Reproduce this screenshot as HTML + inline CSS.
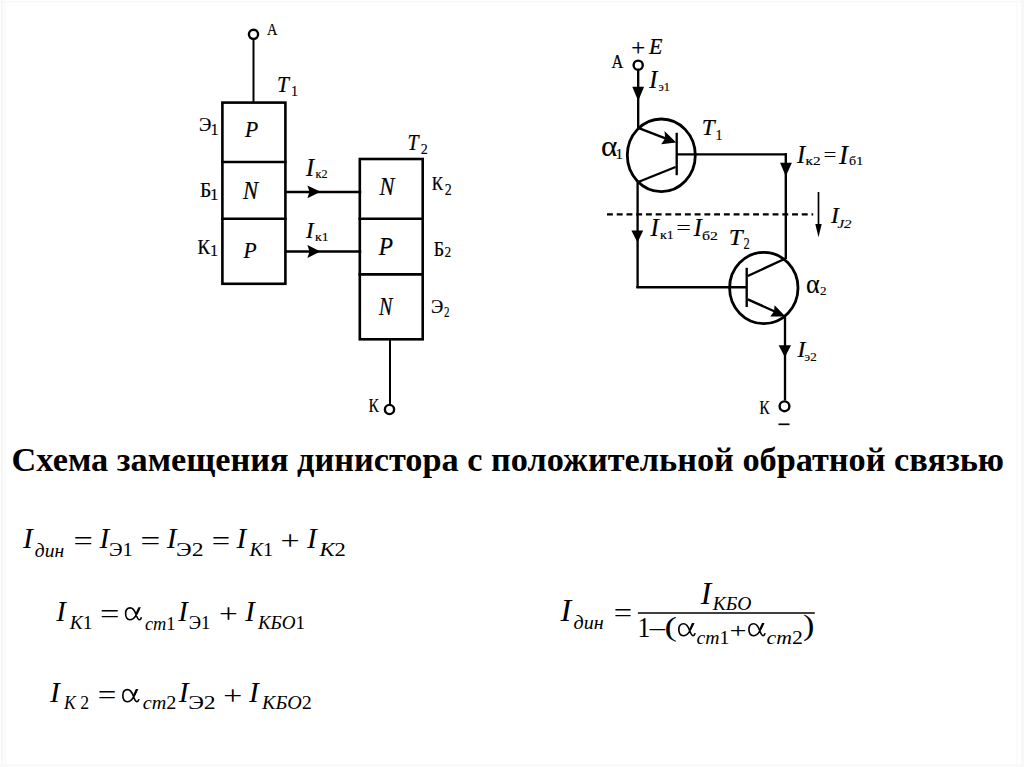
<!DOCTYPE html>
<html><head><meta charset="utf-8">
<style>
html,body{margin:0;padding:0;background:#fff;}
body{width:1024px;height:767px;overflow:hidden;position:relative;}
svg{position:absolute;left:0;top:0;}
text{font-family:"Liberation Serif",serif;fill:#000;}
.title{font-weight:bold;}
</style></head>
<body>
<svg width="1024" height="767" viewBox="0 0 1024 767">
<g stroke="none">
  <rect x="1" y="0" width="2" height="767" fill="#f6f6f6"/>
  <rect x="4" y="0" width="2" height="767" fill="#fbfbfb"/>
  <rect x="0" y="1" width="1024" height="1.5" fill="#f8f8f8"/>
  <rect x="0" y="5" width="1024" height="1" fill="#fbfbfb"/>
  <rect x="1021" y="0" width="3" height="767" fill="#f8f8f8"/>
  <rect x="1016" y="0" width="1.5" height="767" fill="#fbfbfb"/>
  <rect x="0" y="764" width="1024" height="3" fill="#f9f9f9"/>
</g>
<!-- Left diagram -->
<g stroke="#000" fill="none" stroke-linecap="square">
  <circle cx="253.5" cy="34.3" r="4.6" stroke-width="2.4"/>
  <line x1="253.5" y1="40" x2="253.5" y2="102" stroke-width="2"/>
  <rect x="222.4" y="102.6" width="63" height="181.2" stroke-width="2.6"/>
  <line x1="222.4" y1="162" x2="285.4" y2="162" stroke-width="2.6"/>
  <line x1="222.4" y1="218.7" x2="285.4" y2="218.7" stroke-width="2.6"/>
  <line x1="286" y1="191.9" x2="360" y2="191.9" stroke-width="2.5"/>
  <line x1="286" y1="251.6" x2="360" y2="251.6" stroke-width="2.5"/>
  <rect x="359.8" y="159" width="62.9" height="180.3" stroke-width="2.6"/>
  <line x1="359.8" y1="218.8" x2="422.7" y2="218.8" stroke-width="2.6"/>
  <line x1="359.8" y1="274.4" x2="422.7" y2="274.4" stroke-width="2.6"/>
  <line x1="390" y1="340" x2="390" y2="404" stroke-width="2"/>
  <circle cx="389.5" cy="409.5" r="4.6" stroke-width="2.4"/>
</g>
<g fill="#000">
  <path d="M307.4 185.4 L320.5 191.8 L307.4 198.2 L309.5 191.8 Z"/>
  <path d="M307.4 245.1 L320.5 251.5 L307.4 257.9 L309.5 251.5 Z"/>
</g>

<!-- Right diagram -->
<g stroke="#000" fill="none">
  <circle cx="638.2" cy="65.2" r="4.6" stroke-width="2.4"/>
  <line x1="638.2" y1="70.5" x2="638.2" y2="128" stroke-width="2.35"/>
  <ellipse cx="661.3" cy="155.3" rx="34" ry="36.3" stroke-width="2.8"/>
  <line x1="638.2" y1="127.8" x2="668" y2="139.4" stroke-width="2.4"/>
  <line x1="676.7" y1="132.8" x2="676.7" y2="175.2" stroke-width="2.35"/>
  <line x1="676.7" y1="154.4" x2="787" y2="154.4" stroke-width="2.4"/>
  <line x1="675.6" y1="167" x2="638.2" y2="182" stroke-width="2.4"/>
  <line x1="637.6" y1="181" x2="637.6" y2="288" stroke-width="2.35"/>
  <line x1="636.4" y1="287.2" x2="747" y2="287.2" stroke-width="2.4"/>
  <line x1="785.8" y1="153.2" x2="785.8" y2="259" stroke-width="2.4"/>
  <ellipse cx="763.8" cy="288" rx="34.2" ry="35.6" stroke-width="2.8"/>
  <line x1="746.7" y1="267.8" x2="746.7" y2="307" stroke-width="2.35"/>
  <line x1="747.8" y1="276" x2="785.5" y2="258.5" stroke-width="2.4"/>
  <line x1="747.8" y1="299.3" x2="777" y2="312.5" stroke-width="2.4"/>
  <line x1="785" y1="316" x2="785" y2="400.5" stroke-width="2.35"/>
  <circle cx="784.5" cy="406.3" r="4.9" stroke-width="2.4"/>
  <line x1="778.5" y1="424.3" x2="789.5" y2="424.3" stroke-width="1.7"/>
  <line x1="607" y1="214.3" x2="813.2" y2="214.3" stroke-width="2.3" stroke-dasharray="5.9 3.84"/>
  <line x1="818.5" y1="192" x2="818.5" y2="228" stroke-width="1.7"/>
</g>
<g fill="#000">
    <path d="M632.3 86.7 L644.1 86.7 L638.2 101 Z"/>
  <path d="M676.2 142.6 L664.5 131 L665.2 138.2 L661.2 144.3 Z"/>
  <path d="M780.1 162.8 L791.9 162.8 L785.8 176.3 Z"/>
  <path d="M815.3 224 L821.7 224 L818.5 237.2 Z"/>
  <path d="M631.4 230.5 L643.2 230.5 L637.5 242.4 Z"/>
  <path d="M785.5 316.5 L774.6 305.3 L774 311.5 L770.3 316.6 Z"/>
  <path d="M778.6 345.2 L791 345.2 L784.9 357.2 Z"/>
</g>
<line x1="637.9" y1="613" x2="814.8" y2="613" stroke="#000" stroke-width="1.6"/>
<text x="11.6" y="470.7" class="title" style="font-size:34.3px">Схема замещения динистора с положительной обратной связью</text>
<defs><g id="alpha"><path d="M139.4 608.2 C138 611.5, 136.3 616.5, 133.2 618.7 C131.8 619.6, 130.8 619.8, 129.8 619.8 C127.2 619.8, 125.6 617.2, 125.6 613.6 C125.6 610.2, 127.4 607.9, 130.2 607.9 C133.2 607.9, 134.6 610.4, 135.9 614.2 C137 617.4, 137.9 619.7, 139.4 619.7 C140.4 619.7, 141.1 618.6, 141.5 617.2" fill="none" stroke="#000" stroke-width="1.6"/><path d="M138.4 607.3 L140.9 607.3 L137.1 614.3 L135.5 613.6 Z" fill="#000"/></g></defs>
<use href="#alpha" transform="translate(124.7 607) scale(1.0000 1.0000) translate(-124.7 -607)"/>
<use href="#alpha" transform="translate(121.9 688.7) scale(1.0170 1.0219) translate(-124.7 -607)"/>
<use href="#alpha" transform="translate(677.9 622.8) scale(1.0284 1.0146) translate(-124.7 -607)"/>
<use href="#alpha" transform="translate(748 622.8) scale(1.0227 1.0146) translate(-124.7 -607)"/>
<text id="lA" x="266.90" y="34.50" textLength="10.36" lengthAdjust="spacingAndGlyphs" style="font-size:17.36px;stroke:#000;stroke-width:0.15;">А</text>
<text id="lT1" x="277.05" y="92.45" textLength="11.94" lengthAdjust="spacingAndGlyphs" style="font-style:italic;font-size:23.56px;stroke:#000;stroke-width:0.22;">T</text>
<text id="lT1s" x="291.00" y="96.30" style="font-size:14.17px;stroke:#000;stroke-width:0.15;">1</text>
<text id="lE1" x="198.90" y="130.80" textLength="12.32" lengthAdjust="spacingAndGlyphs" style="font-size:18.55px;stroke:#000;stroke-width:0.22;">Э</text>
<text id="lE1s" x="210.50" y="134.50" style="font-size:16.25px;stroke:#000;stroke-width:0.15;">1</text>
<text id="lB1" x="200.10" y="196.55" textLength="11.30" lengthAdjust="spacingAndGlyphs" style="font-size:20.02px;stroke:#000;stroke-width:0.22;">Б</text>
<text id="lB1s" x="209.90" y="199.80" style="font-size:16.87px;stroke:#000;stroke-width:0.15;">1</text>
<text id="lK1" x="197.55" y="253.70" textLength="12.53" lengthAdjust="spacingAndGlyphs" style="font-size:20.03px;stroke:#000;stroke-width:0.22;">К</text>
<text id="lK1s" x="209.90" y="255.50" style="font-size:16.25px;stroke:#000;stroke-width:0.15;">1</text>
<text id="lP1" x="245.00" y="136.80" textLength="13.16" lengthAdjust="spacingAndGlyphs" style="font-style:italic;font-size:23.43px;stroke:#000;stroke-width:0.22;">P</text>
<text id="lN1" x="243.05" y="198.75" textLength="15.09" lengthAdjust="spacingAndGlyphs" style="font-style:italic;font-size:24.44px;stroke:#000;stroke-width:0.22;">N</text>
<text id="lP2" x="243.60" y="257.90" textLength="13.11" lengthAdjust="spacingAndGlyphs" style="font-style:italic;font-size:23.57px;stroke:#000;stroke-width:0.22;">P</text>
<text id="rN1" x="379.60" y="195.00" textLength="14.92" lengthAdjust="spacingAndGlyphs" style="font-style:italic;font-size:25.23px;stroke:#000;stroke-width:0.22;">N</text>
<text id="rP1" x="378.85" y="254.55" textLength="14.22" lengthAdjust="spacingAndGlyphs" style="font-style:italic;font-size:24.67px;stroke:#000;stroke-width:0.22;">P</text>
<text id="rN2" x="379.00" y="315.35" textLength="13.38" lengthAdjust="spacingAndGlyphs" style="font-style:italic;font-size:24.31px;stroke:#000;stroke-width:0.22;">N</text>
<text id="lT2" x="407.50" y="150.05" textLength="11.05" lengthAdjust="spacingAndGlyphs" style="font-style:italic;font-size:23.56px;stroke:#000;stroke-width:0.22;">T</text>
<text id="lT2s" x="420.65" y="153.50" textLength="7.03" lengthAdjust="spacingAndGlyphs" style="font-size:14.77px;stroke:#000;stroke-width:0.15;">2</text>
<text id="lK2" x="431.70" y="190.20" textLength="11.33" lengthAdjust="spacingAndGlyphs" style="font-size:18.91px;stroke:#000;stroke-width:0.22;">К</text>
<text id="lK2s" x="444.75" y="194.85" textLength="7.00" lengthAdjust="spacingAndGlyphs" style="font-size:16.02px;stroke:#000;stroke-width:0.15;">2</text>
<text id="lB2" x="433.70" y="255.75" textLength="10.38" lengthAdjust="spacingAndGlyphs" style="font-size:20.03px;stroke:#000;stroke-width:0.22;">Б</text>
<text id="lB2s" x="444.50" y="256.50" textLength="6.69" lengthAdjust="spacingAndGlyphs" style="font-size:14.77px;stroke:#000;stroke-width:0.15;">2</text>
<text id="lE2" x="431.00" y="312.80" textLength="12.26" lengthAdjust="spacingAndGlyphs" style="font-size:18.00px;stroke:#000;stroke-width:0.22;">Э</text>
<text id="lE2s" x="444.10" y="316.50" textLength="5.50" lengthAdjust="spacingAndGlyphs" style="font-size:14.48px;stroke:#000;stroke-width:0.15;">2</text>
<text id="lIk2" x="306.00" y="176.00" style="font-style:italic;font-size:24.22px;stroke:#000;stroke-width:0.22;">I</text>
<text id="lIk2s" x="315.50" y="178.00" textLength="11.95" lengthAdjust="spacingAndGlyphs" style="font-size:13.00px;stroke:#000;stroke-width:0.15;">к2</text>
<text id="lIk1" x="306.00" y="238.00" style="font-style:italic;font-size:22.96px;stroke:#000;stroke-width:0.22;">I</text>
<text id="lIk1s" x="315.00" y="240.65" textLength="13.49" lengthAdjust="spacingAndGlyphs" style="font-size:13.00px;stroke:#000;stroke-width:0.15;">к1</text>
<text id="lK" x="368.40" y="412.30" textLength="10.40" lengthAdjust="spacingAndGlyphs" style="font-size:18.52px;stroke:#000;stroke-width:0.15;">К</text>
<text id="rA" x="611.50" y="68.15" textLength="11.82" lengthAdjust="spacingAndGlyphs" style="font-size:19.80px;stroke:#000;stroke-width:0.22;">А</text>
<text id="rplus" x="631.30" y="55.00" textLength="13.85" lengthAdjust="spacingAndGlyphs" style="font-size:22.41px;stroke:#000;stroke-width:0.22;">+</text>
<text id="rE" x="649.05" y="54.40" textLength="13.43" lengthAdjust="spacingAndGlyphs" style="font-style:italic;font-size:22.96px;stroke:#000;stroke-width:0.22;">E</text>
<text id="rIe1" x="649.15" y="88.40" style="font-style:italic;font-size:24.22px;stroke:#000;stroke-width:0.22;">I</text>
<text id="rIe1s" x="658.45" y="91.25" textLength="11.49" lengthAdjust="spacingAndGlyphs" style="font-size:13.00px;stroke:#000;stroke-width:0.15;">э1</text>
<text id="ra1" x="601.00" y="155.50" textLength="16.37" lengthAdjust="spacingAndGlyphs" style="font-size:28.83px;stroke:#000;stroke-width:0.1;">α</text>
<text id="ra1s" x="615.50" y="158.50" style="font-size:14.99px;stroke:#000;stroke-width:0.15;">1</text>
<text id="rT1" x="701.75" y="134.95" textLength="12.90" lengthAdjust="spacingAndGlyphs" style="font-style:italic;font-size:22.35px;stroke:#000;stroke-width:0.22;">T</text>
<text id="rT1s" x="715.40" y="140.00" style="font-size:13.96px;stroke:#000;stroke-width:0.15;">1</text>
<text id="rIk2" x="796.90" y="163.40" style="font-style:italic;font-size:24.35px;stroke:#000;stroke-width:0.22;">I</text>
<text id="rIk2s" x="805.60" y="165.20" textLength="14.99" lengthAdjust="spacingAndGlyphs" style="font-size:13.00px;stroke:#000;stroke-width:0.15;">к2</text>
<text id="rEq1" x="823.80" y="160.80" textLength="12.50" lengthAdjust="spacingAndGlyphs" style="font-size:18.00px;stroke:#000;stroke-width:0.22;">=</text>
<text id="rIb1" x="839.05" y="163.80" style="font-style:italic;font-size:27.01px;stroke:#000;stroke-width:0.22;">I</text>
<text id="rIb1s" x="849.05" y="164.75" textLength="14.08" lengthAdjust="spacingAndGlyphs" style="font-size:13.00px;stroke:#000;stroke-width:0.15;">б1</text>
<text id="rIJ" x="830.95" y="223.25" style="font-style:italic;font-size:23.56px;stroke:#000;stroke-width:0.22;">I</text>
<text id="rIJs" x="837.40" y="228.10" textLength="14.03" lengthAdjust="spacingAndGlyphs" style="font-style:italic;font-size:12.00px;stroke:#000;stroke-width:0.15;">J2</text>
<text id="rIk1" x="650.50" y="235.85" style="font-style:italic;font-size:24.66px;stroke:#000;stroke-width:0.22;">I</text>
<text id="rIk1s" x="660.05" y="239.35" textLength="13.67" lengthAdjust="spacingAndGlyphs" style="font-size:13.00px;stroke:#000;stroke-width:0.15;">к1</text>
<text id="rEq2" x="676.55" y="234.44" textLength="14.20" lengthAdjust="spacingAndGlyphs" style="font-size:18.00px;stroke:#000;stroke-width:0.22;">=</text>
<text id="rIb2" x="693.75" y="235.85" style="font-style:italic;font-size:24.25px;stroke:#000;stroke-width:0.22;">I</text>
<text id="rIb2s" x="702.05" y="239.80" textLength="15.93" lengthAdjust="spacingAndGlyphs" style="font-size:13.00px;stroke:#000;stroke-width:0.15;">б2</text>
<text id="rT2" x="728.65" y="245.25" textLength="13.86" lengthAdjust="spacingAndGlyphs" style="font-style:italic;font-size:23.56px;stroke:#000;stroke-width:0.22;">T</text>
<text id="rT2s" x="743.40" y="248.50" textLength="6.22" lengthAdjust="spacingAndGlyphs" style="font-size:16.64px;stroke:#000;stroke-width:0.15;">2</text>
<text id="ra2" x="806.00" y="292.60" textLength="13.73" lengthAdjust="spacingAndGlyphs" style="font-size:27.17px;stroke:#000;stroke-width:0.1;">α</text>
<text id="ra2s" x="820.10" y="294.70" textLength="6.53" lengthAdjust="spacingAndGlyphs" style="font-size:13.44px;stroke:#000;stroke-width:0.15;">2</text>
<text id="rIe2" x="797.50" y="357.05" style="font-style:italic;font-size:23.56px;stroke:#000;stroke-width:0.22;">I</text>
<text id="rIe2s" x="804.60" y="360.90" textLength="12.10" lengthAdjust="spacingAndGlyphs" style="font-size:13.00px;stroke:#000;stroke-width:0.15;">э2</text>
<text id="rK" x="759.30" y="413.80" textLength="10.45" lengthAdjust="spacingAndGlyphs" style="font-size:18.20px;stroke:#000;stroke-width:0.15;">К</text>
<text id="f1I1" x="23.10" y="548.20" style="font-style:italic;font-size:29.36px;">I</text>
<text id="f1s1" x="34.80" y="556.70" textLength="29.30" lengthAdjust="spacingAndGlyphs" style="font-style:italic;font-size:18.00px;">дин</text>
<text id="f1eq1" x="73.60" y="550.20" textLength="19.32" lengthAdjust="spacingAndGlyphs" style="font-size:28.00px;">=</text>
<text id="f1I2" x="99.50" y="548.00" style="font-style:italic;font-size:29.25px;">I</text>
<text id="f1s2" x="108.90" y="556.00" textLength="23.86" lengthAdjust="spacingAndGlyphs" style="font-size:18.00px;">Э1</text>
<text id="f1eq2" x="140.40" y="550.20" textLength="19.74" lengthAdjust="spacingAndGlyphs" style="font-size:28.00px;">=</text>
<text id="f1I3" x="166.74" y="548.00" style="font-style:italic;font-size:29.25px;">I</text>
<text id="f1s3" x="176.10" y="556.00" textLength="27.43" lengthAdjust="spacingAndGlyphs" style="font-size:18.00px;">Э2</text>
<text id="f1eq3" x="211.70" y="550.20" textLength="18.36" lengthAdjust="spacingAndGlyphs" style="font-size:28.00px;">=</text>
<text id="f1I4" x="236.60" y="548.00" style="font-style:italic;font-size:29.25px;">I</text>
<text id="f1s4" x="249.60" y="556.00" textLength="23.64" lengthAdjust="spacingAndGlyphs" style="font-size:18.00px;"><tspan font-style="italic">К</tspan>1</text>
<text id="f1plus" x="280.50" y="550.10" textLength="19.25" lengthAdjust="spacingAndGlyphs" style="font-size:28.00px;">+</text>
<text id="f1I5" x="307.00" y="548.00" style="font-style:italic;font-size:29.25px;">I</text>
<text id="f1s5" x="319.60" y="556.00" textLength="26.28" lengthAdjust="spacingAndGlyphs" style="font-size:18.00px;"><tspan font-style="italic">К</tspan>2</text>
<text id="f2I1" x="56.18" y="620.70" style="font-style:italic;font-size:28.57px;">I</text>
<text id="f2s1" x="69.80" y="628.60" textLength="22.68" lengthAdjust="spacingAndGlyphs" style="font-size:18.00px;"><tspan font-style="italic">К</tspan>1</text>
<text id="f2eq" x="100.00" y="622.90" textLength="19.40" lengthAdjust="spacingAndGlyphs" style="font-size:28.00px;">=</text>
<text id="f2s2" x="144.90" y="629.60" textLength="30.60" lengthAdjust="spacingAndGlyphs" style="font-size:18.00px;"><tspan font-style="italic">ст</tspan>1</text>
<text id="f2I2" x="178.28" y="620.70" style="font-style:italic;font-size:28.57px;">I</text>
<text id="f2s3" x="188.80" y="628.60" textLength="21.64" lengthAdjust="spacingAndGlyphs" style="font-size:18.00px;">Э1</text>
<text id="f2plus" x="218.90" y="622.80" textLength="18.86" lengthAdjust="spacingAndGlyphs" style="font-size:28.00px;">+</text>
<text id="f2I3" x="245.20" y="620.70" style="font-style:italic;font-size:28.57px;">I</text>
<text id="f2s4" x="257.90" y="628.60" textLength="47.24" lengthAdjust="spacingAndGlyphs" style="font-size:18.00px;"><tspan font-style="italic">КБО</tspan>1</text>
<text id="f3I1" x="50.10" y="702.20" style="font-style:italic;font-size:29.36px;">I</text>
<text id="f3s1" x="64.10" y="709.40" textLength="25.00" lengthAdjust="spacingAndGlyphs" style="font-size:18.00px;"><tspan font-style="italic">К</tspan> 2</text>
<text id="f3eq" x="97.80" y="704.40" textLength="18.59" lengthAdjust="spacingAndGlyphs" style="font-size:28.00px;">=</text>
<text id="f3s2" x="142.70" y="709.40" textLength="33.64" lengthAdjust="spacingAndGlyphs" style="font-size:18.00px;"><tspan font-style="italic">ст</tspan>2</text>
<text id="f3I2" x="178.70" y="702.20" style="font-style:italic;font-size:29.36px;">I</text>
<text id="f3s3" x="188.20" y="709.40" textLength="27.58" lengthAdjust="spacingAndGlyphs" style="font-size:18.00px;">Э2</text>
<text id="f3plus" x="223.30" y="704.70" textLength="19.04" lengthAdjust="spacingAndGlyphs" style="font-size:28.00px;">+</text>
<text id="f3I3" x="249.10" y="702.20" style="font-style:italic;font-size:29.36px;">I</text>
<text id="f3s4" x="262.10" y="709.40" textLength="49.72" lengthAdjust="spacingAndGlyphs" style="font-size:18.00px;"><tspan font-style="italic">КБО</tspan>2</text>
<text id="f4I1" x="560.50" y="620.90" style="font-style:italic;font-size:32.41px;">I</text>
<text id="f4s1" x="573.60" y="628.60" textLength="30.19" lengthAdjust="spacingAndGlyphs" style="font-style:italic;font-size:18.00px;">дин</text>
<text id="f4eq" x="613.70" y="622.10" textLength="18.36" lengthAdjust="spacingAndGlyphs" style="font-size:28.00px;">=</text>
<text id="f4In" x="700.80" y="603.70" style="font-style:italic;font-size:31.56px;">I</text>
<text id="f4sn" x="712.70" y="610.00" textLength="38.68" lengthAdjust="spacingAndGlyphs" style="font-style:italic;font-size:18.00px;">КБО</text>
<text id="f4one" x="637.40" y="636.60" textLength="12.85" lengthAdjust="spacingAndGlyphs" style="font-size:30.41px;">1</text>
<text id="f4minus" x="649.80" y="635.80" textLength="15.21" lengthAdjust="spacingAndGlyphs" style="font-size:28.00px;">–</text>
<text id="f4lp" x="664.50" y="635.80" textLength="12.38" lengthAdjust="spacingAndGlyphs" style="font-size:28.07px;">(</text>
<text id="f4s2" x="696.60" y="643.80" textLength="32.87" lengthAdjust="spacingAndGlyphs" style="font-size:18.00px;"><tspan font-style="italic">ст</tspan>1</text>
<text id="f4plus" x="729.50" y="637.50" textLength="17.09" lengthAdjust="spacingAndGlyphs" style="font-size:22.00px;">+</text>
<text id="f4s3" x="766.50" y="643.90" textLength="36.30" lengthAdjust="spacingAndGlyphs" style="font-size:18.00px;"><tspan font-style="italic">ст</tspan>2</text>
<text id="f4rp" x="803.00" y="635.40" textLength="11.36" lengthAdjust="spacingAndGlyphs" style="font-size:30.33px;">)</text>
</svg>
</body></html>
